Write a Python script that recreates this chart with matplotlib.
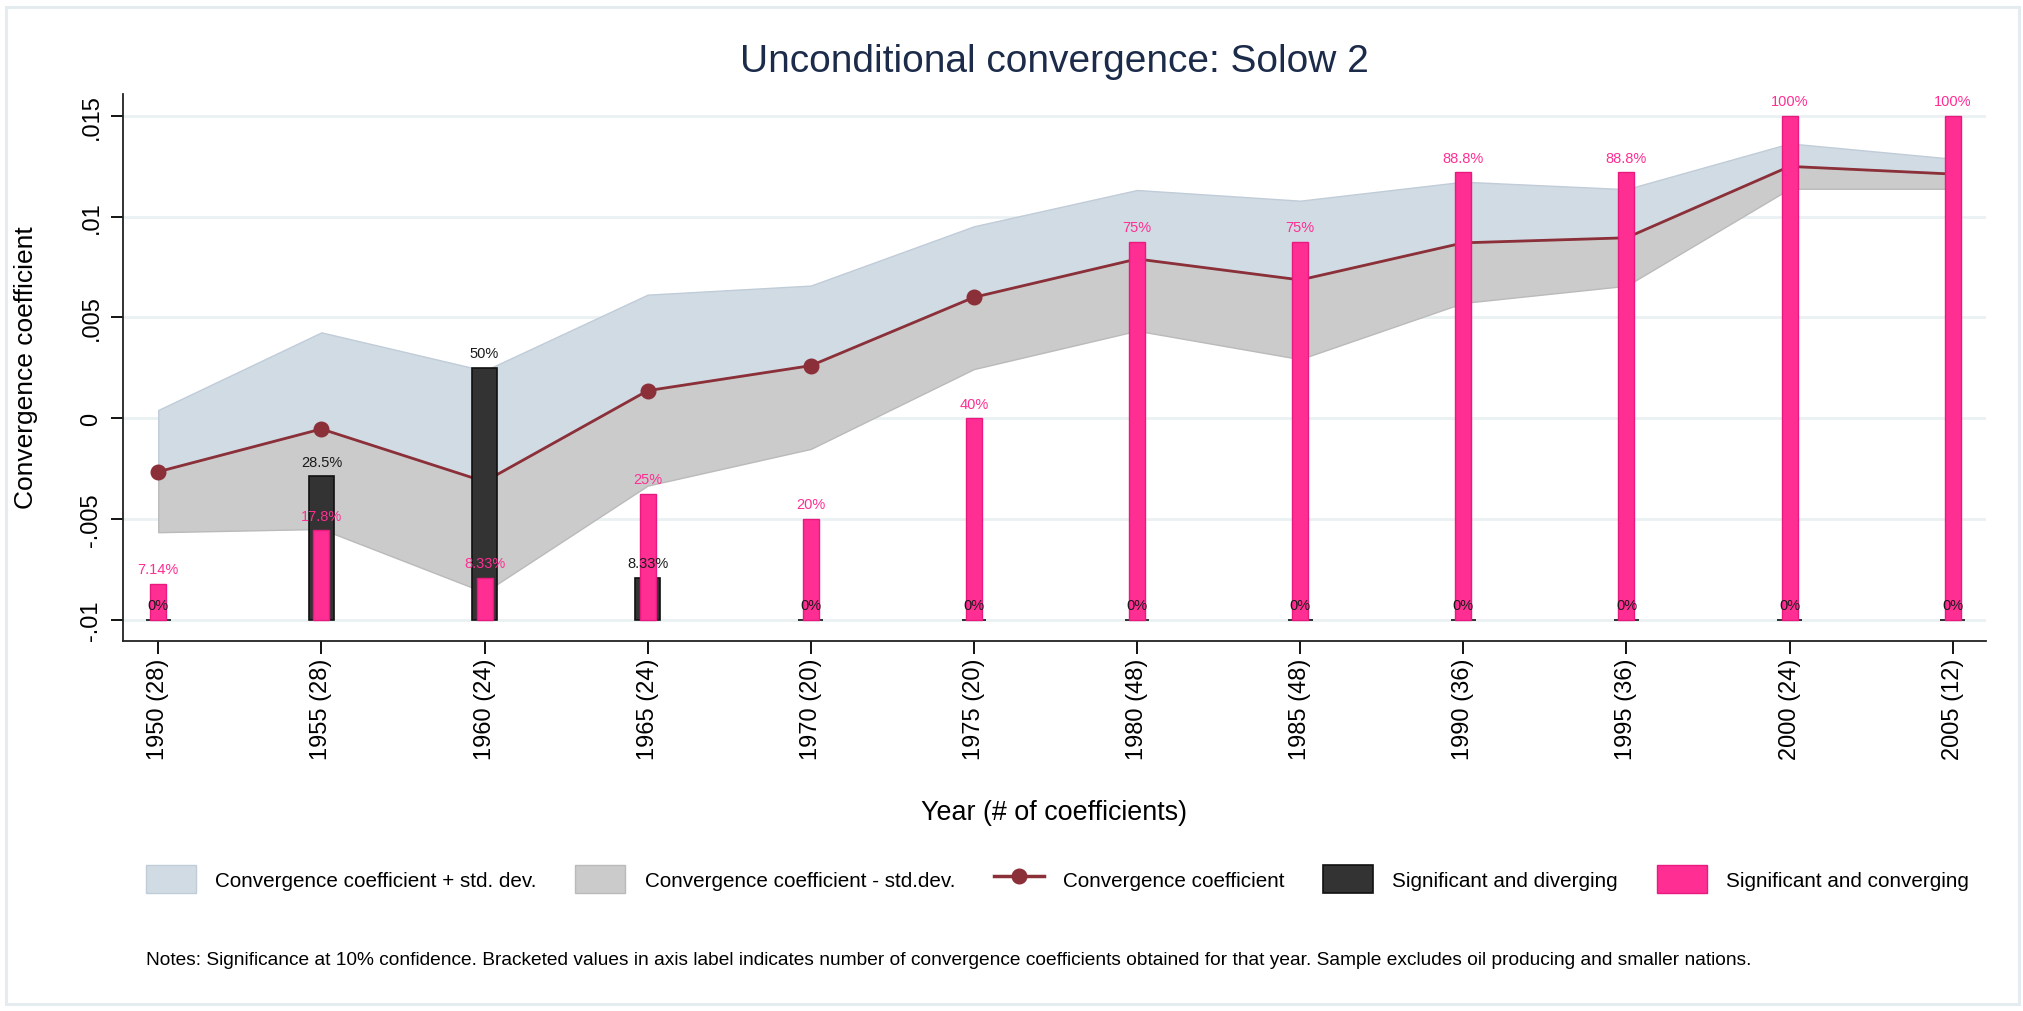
import matplotlib
matplotlib.use("Agg")
import matplotlib.pyplot as plt
from matplotlib.patches import Patch, Rectangle
from matplotlib.lines import Line2D

# ---------------- data ----------------
years = [1950, 1955, 1960, 1965, 1970, 1975, 1980, 1985, 1990, 1995, 2000, 2005]
n_coefficients = [28, 28, 24, 24, 20, 20, 48, 48, 36, 36, 24, 12]
coef = [-0.00265, -0.00053, -0.00314, 0.00137, 0.00261, 0.0060,
        0.0079, 0.00686, 0.0087, 0.00895, 0.01249, 0.01211]
coef_plus_sd = [0.00041, 0.00426, 0.00236, 0.00613, 0.00658, 0.00952,
                0.01132, 0.01079, 0.01173, 0.01136, 0.01363, 0.01287]
coef_minus_sd = [-0.00565, -0.00549, -0.00863, -0.00334, -0.00152, 0.00244,
                 0.00434, 0.00293, 0.00572, 0.00657, 0.01138, 0.01138]
pct_diverging = [0, 28.5, 50, 8.33, 0, 0, 0, 0, 0, 0, 0, 0]
pct_converging = [7.14, 17.8, 8.33, 25, 20, 40, 75, 75, 88.8, 88.8, 100, 100]
lbl_diverging = ["0%", "28.5%", "50%", "8.33%", "0%", "0%", "0%", "0%", "0%", "0%", "0%", "0%"]
lbl_converging = ["7.14%", "17.8%", "8.33%", "25%", "20%", "40%", "75%", "75%",
                  "88.8%", "88.8%", "100%", "100%"]
ytick_vals = [-0.01, -0.005, 0, 0.005, 0.01, 0.015]
ytick_labels = ["-.01", "-.005", "0", ".005", ".01", ".015"]
xtick_labels = [f"{y} ({n})" for y, n in zip(years, n_coefficients)]

title = "Unconditional convergence: Solow 2"
xlabel = "Year (# of coefficients)"
ylabel = "Convergence coefficient"
legend_labels = ["Convergence coefficient + std. dev.", "Convergence coefficient - std.dev.",
                 "Convergence coefficient", "Significant and diverging", "Significant and converging"]
notes = ("Notes: Significance at 10% confidence. Bracketed values in axis label indicates number of "
         "convergence coefficients obtained for that year. Sample excludes oil producing and smaller nations.")

# ---------------- style ----------------
plt.rcParams["font.family"] = ["Liberation Sans", "DejaVu Sans"]
C_UP = "#d1dbe4"
C_UP_E = "#c0ccd8"
C_DN = "#cbcbcb"
C_DN_E = "#bababa"
C_LINE = "#8b2f38"
C_BLACK = "#333333"
C_PINK = "#ff2e93"
C_PINK_E = "#e8197f"
C_GRID = "#eaf1f3"

W, H = 2023, 1012
fig = plt.figure(figsize=(W / 100, H / 100), dpi=100)
fig.patch.set_facecolor("white")

ax_l, ax_r, ax_t, ax_b = 122.7, 1985.7, 95.0, 641.7
ax = fig.add_axes([ax_l / W, 1 - ax_b / H, (ax_r - ax_l) / W, (ax_b - ax_t) / H])

ylo, yhi = -0.01103, 0.01608
ax.set_xlim(1948.91, 2006.01)
ax.set_ylim(ylo, yhi)

# grid
for v in ytick_vals:
    ax.axhline(v, color=C_GRID, lw=2.0, zorder=0)

# bands
ax.fill_between(years, coef, coef_plus_sd, facecolor=C_UP, edgecolor=C_UP_E, lw=1.0, zorder=1)
ax.fill_between(years, coef_minus_sd, coef, facecolor=C_DN, edgecolor=C_DN_E, lw=1.0, zorder=1)
ax.plot(years, coef, color=C_LINE, lw=2.0, marker="o", markersize=10.5, zorder=3)

ax.set_yticks(ytick_vals)
ax.set_yticklabels(ytick_labels)
ax.set_xticks(years)
ax.set_xticklabels(xtick_labels)
ax.tick_params(axis="y", labelrotation=90, labelsize=17, length=8.6, width=1.3, pad=6)
ax.tick_params(axis="x", labelrotation=90, labelsize=17, length=9.4, width=1.3, pad=3)
for lab in ax.get_yticklabels():
    lab.set_va("center")
for s in ["top", "right"]:
    ax.spines[s].set_visible(False)
for s in ["left", "bottom"]:
    ax.spines[s].set_linewidth(1.3)
    ax.spines[s].set_color("#222222")

# bars on a percentage scale mapped onto the coefficient axis (0% -> -.01, 100% -> .015)
ax2 = ax.twinx()
p_lo = (ylo + 0.01) / 0.025 * 100
p_hi = (yhi + 0.01) / 0.025 * 100
ax2.set_ylim(p_lo, p_hi)
ax2.set_axis_off()

ax2.bar(years, pct_diverging, width=0.76, color=C_BLACK, edgecolor="#111111", lw=1.2, zorder=2)
ax2.bar(years, pct_converging, width=0.49, color=C_PINK, edgecolor=C_PINK_E, lw=1.0, zorder=3)
for x, p, t in zip(years, pct_diverging, lbl_diverging):
    ax2.annotate(t, (x, p), xytext=(0, 5.5), textcoords="offset points", ha="center",
                 va="bottom", fontsize=10.5, color="#1a1a1a", zorder=5)
for x, p, t in zip(years, pct_converging, lbl_converging):
    ax2.annotate(t, (x, p), xytext=(0, 5.5), textcoords="offset points", ha="center",
                 va="bottom", fontsize=10.5, color=C_PINK, zorder=5)

# titles
cx = (ax_l + ax_r) / 2 / W
fig.text(cx, 1 - 62 / H, title, ha="center", va="center", fontsize=28, color="#1c2b4a")
fig.text(cx, 1 - 813 / H, xlabel, ha="center", va="center", fontsize=19.4)
fig.text(26 / W, 1 - 368 / H, ylabel, ha="center", va="center", rotation=90, fontsize=19)

# legend
handles = [
    Patch(facecolor=C_UP, edgecolor=C_UP_E, lw=1.0),
    Patch(facecolor=C_DN, edgecolor=C_DN_E, lw=1.0),
    Line2D([], [], color=C_LINE, lw=2.5, marker="o", markersize=10.5),
    Patch(facecolor=C_BLACK, edgecolor="#111111", lw=1.2),
    Patch(facecolor=C_PINK, edgecolor=C_PINK_E, lw=1.0),
]
fig.legend(handles, legend_labels, loc="center left", bbox_to_anchor=(146 / W, 1 - 880 / H),
           ncol=5, frameon=False, borderaxespad=0, borderpad=0, fontsize=14.9,
           handlelength=2.42, handleheight=1.64, handletextpad=0.92, columnspacing=1.88)

fig.text(146 / W, 1 - 961 / H, notes, ha="left", va="center", fontsize=13.75)

# outer border
fig.patches.append(Rectangle((5.5 / W, 7 / H), (2019 - 5.5) / W, (1005 - 8) / H,
                             transform=fig.transFigure, fill=False, edgecolor="#e4ecef", lw=2.2))

fig.savefig("out.png", dpi=100)
